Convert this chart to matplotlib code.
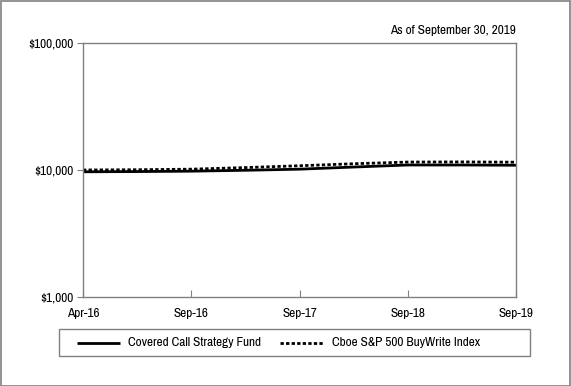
import matplotlib
matplotlib.use("Agg")
import matplotlib.pyplot as plt
from matplotlib.lines import Line2D
from matplotlib.patches import Rectangle
from matplotlib.ticker import FixedLocator, NullLocator

plt.rcParams['font.family'] = ['Archivo Narrow', 'Liberation Sans', 'DejaVu Sans']

tick_labels = ["Apr-16", "Sep-16", "Sep-17", "Sep-18", "Sep-19"]
x_points = [0, 0.5, 1, 1.5, 2, 2.5, 3, 3.5, 4]
fund = [9680, 9720, 9790, 9950, 10150, 10550, 10950, 10950, 10900]
index = [10000, 10050, 10150, 10450, 10800, 11200, 11550, 11580, 11520]
y_ticks = [1000, 10000, 100000]
y_labels = ["$1,000", "$10,000", "$100,000"]
series_names = ["Covered Call Strategy Fund", "Cboe S&P 500 BuyWrite Index"]
note = "As of September 30, 2019"

FS = 9.5
W, H = 571, 386
fig = plt.figure(figsize=(W / 100, H / 100), dpi=100)
ax = fig.add_axes([83 / W, 1 - 297 / H, (516 - 83) / W, (297 - 43) / H])

ax.plot(x_points, fund, color="black", lw=2.0, solid_capstyle="butt")
ax.plot(x_points, index, color="black", lw=2.0, linestyle=(0, (1.2, 0.8)))

ax.set_yscale("log")
ax.set_ylim(1000, 100000)
ax.set_xlim(0, 4)
ax.yaxis.set_major_locator(FixedLocator(y_ticks))
ax.yaxis.set_minor_locator(NullLocator())
ax.set_yticklabels(y_labels)
ax.set_xticks(range(len(tick_labels)))
ax.set_xticklabels(tick_labels)

for s in ax.spines.values():
    s.set_color("#808080")
    s.set_linewidth(1.0)
ax.tick_params(axis="x", direction="in", length=5, color="#808080", labelsize=FS, pad=8)
ax.tick_params(axis="y", direction="out", length=4, color="#808080", labelsize=FS, pad=3)

fig.text(516 / W, 1 - 30 / H, note, ha="right", va="center", fontsize=FS)

# Legend box
fig.patches.append(Rectangle((59 / W, 1 - 356 / H), (530 - 59) / W, (356 - 329) / H,
                             transform=fig.transFigure, fill=False, edgecolor="#808080", lw=1.0))
ly = 1 - 342.5 / H
fig.lines.append(Line2D([76.5 / W, 119.5 / W], [ly, ly], transform=fig.transFigure,
                        color="black", lw=2.0, solid_capstyle="butt"))
fig.text(128.5 / W, ly, series_names[0], ha="left", va="center", fontsize=FS)
fig.lines.append(Line2D([280 / W, 323 / W], [ly, ly], transform=fig.transFigure,
                        color="black", lw=2.0, linestyle=(0, (1.2, 0.8))))
fig.text(332 / W, ly, series_names[1], ha="left", va="center", fontsize=FS)

# Outer border
fig.patches.append(Rectangle((0.5 / W, 0.5 / H), (W - 1.5) / W, (H - 1.5) / H,
                             transform=fig.transFigure, fill=False, edgecolor="#808080", lw=1.2))

fig.savefig("out.png", dpi=100)
